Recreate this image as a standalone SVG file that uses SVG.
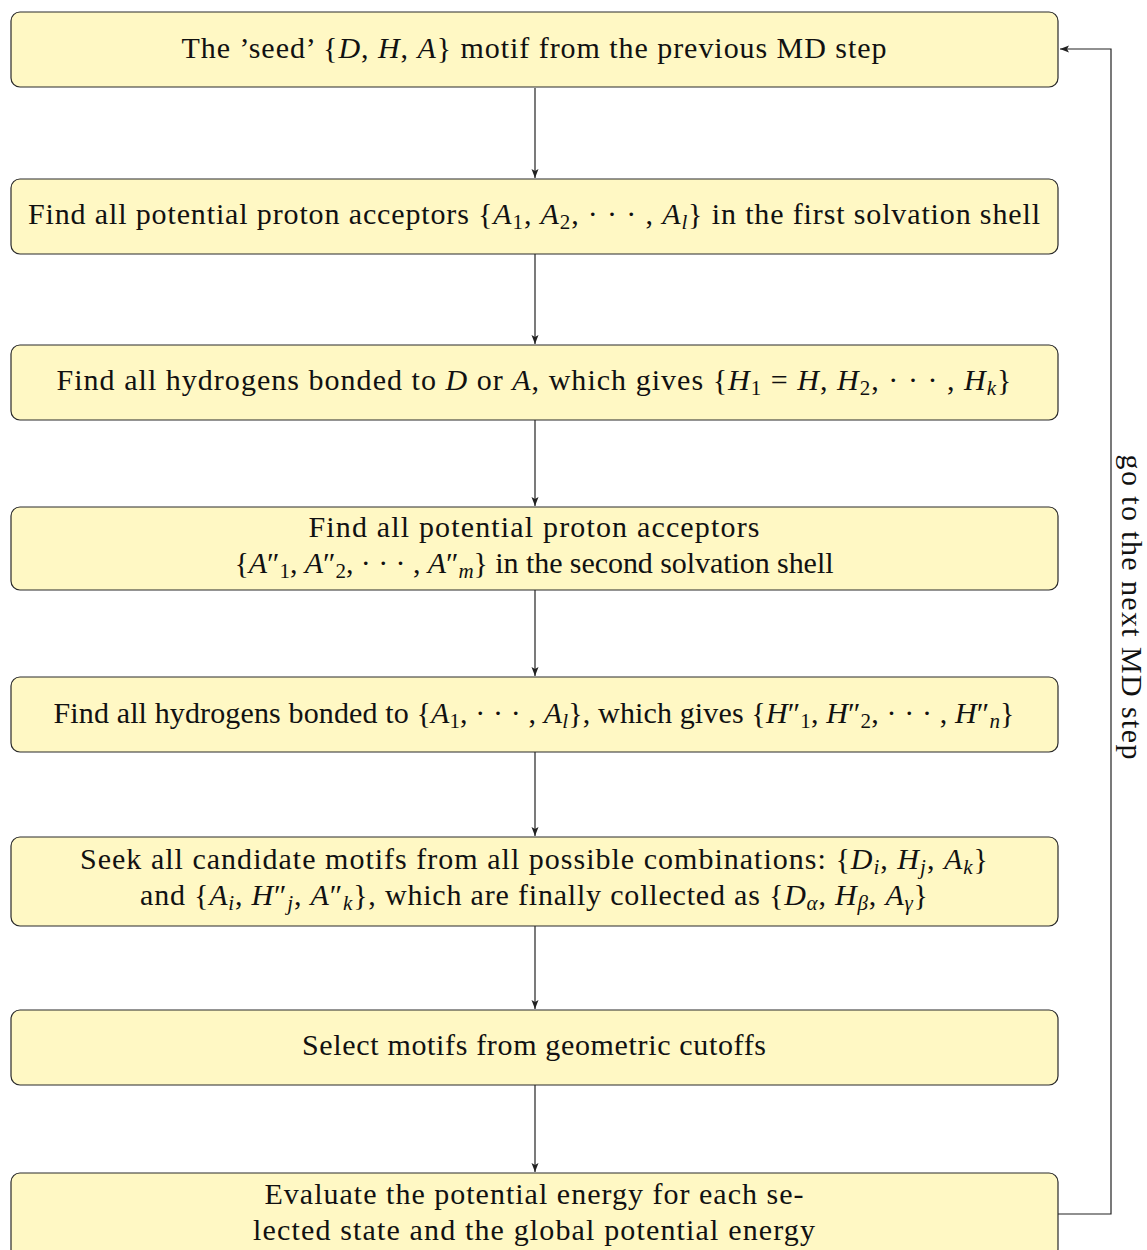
<svg xmlns="http://www.w3.org/2000/svg" width="1147" height="1250" viewBox="0 0 1147 1250">
<style>
.box{fill:#fff8c4;stroke:#2a2a2a;stroke-width:1.2}
.t{font-family:"Liberation Serif","DejaVu Serif",serif;font-size:30px;fill:#111;text-anchor:middle}
.i{font-style:italic}
.s{font-size:21px}
.c{fill:none;stroke:#222;stroke-width:1.2}
</style>
<defs>
<marker id="ah" markerWidth="10" markerHeight="8" refX="9" refY="4" orient="auto" markerUnits="userSpaceOnUse">
<path d="M0,0.5 L9,4 L0,7.5 L2,4 Z" fill="#222"/>
</marker>
</defs>
<g id="connectors">
<line class="c" x1="535" y1="88" x2="535" y2="178" marker-end="url(#ah)"/>
<line class="c" x1="535" y1="254" x2="535" y2="344" marker-end="url(#ah)"/>
<line class="c" x1="535" y1="420" x2="535" y2="506" marker-end="url(#ah)"/>
<line class="c" x1="535" y1="590" x2="535" y2="676" marker-end="url(#ah)"/>
<line class="c" x1="535" y1="752" x2="535" y2="836" marker-end="url(#ah)"/>
<line class="c" x1="535" y1="926" x2="535" y2="1009" marker-end="url(#ah)"/>
<line class="c" x1="535" y1="1085" x2="535" y2="1172" marker-end="url(#ah)"/>
<polyline class="c" points="1058,1214 1111,1214 1111,49 1060,49" marker-end="url(#ah)"/>
<text class="t" transform="translate(1129,607) rotate(90)" dominant-baseline="middle" textLength="305" lengthAdjust="spacing">go to the next MD step</text>
</g>
<g id="n1">
<rect class="box" x="11" y="12" width="1047" height="75" rx="9"/>
<text class="t" x="534" y="58" textLength="705" lengthAdjust="spacing">The ’seed’ {<tspan class="i">D</tspan>, <tspan class="i">H</tspan>, <tspan class="i">A</tspan>} motif from the previous MD step</text>
</g>
<g id="n2">
<rect class="box" x="11" y="179" width="1047" height="75" rx="9"/>
<text class="t" x="534" y="224" textLength="1012" lengthAdjust="spacing">Find all potential proton acceptors {<tspan class="i">A</tspan><tspan class="s" dy="5">1</tspan><tspan dy="-5">, </tspan><tspan class="i">A</tspan><tspan class="s" dy="5">2</tspan><tspan dy="-5">, · · · , </tspan><tspan class="i">A</tspan><tspan class="s i" dy="5">l</tspan><tspan dy="-5">} in the first solvation shell</tspan></text>
</g>
<g id="n3">
<rect class="box" x="11" y="345" width="1047" height="75" rx="9"/>
<text class="t" x="534" y="390" textLength="955" lengthAdjust="spacing">Find all hydrogens bonded to <tspan class="i">D</tspan> or <tspan class="i">A</tspan>, which gives {<tspan class="i">H</tspan><tspan class="s" dy="5">1</tspan><tspan dy="-5"> = </tspan><tspan class="i">H</tspan>, <tspan class="i">H</tspan><tspan class="s" dy="5">2</tspan><tspan dy="-5">, · · · , </tspan><tspan class="i">H</tspan><tspan class="s i" dy="5">k</tspan><tspan dy="-5">}</tspan></text>
</g>
<g id="n4">
<rect class="box" x="11" y="507" width="1047" height="83" rx="9"/>
<text class="t" x="534" y="537" textLength="451" lengthAdjust="spacing">Find all potential proton acceptors</text>
<text class="t" x="534" y="573" textLength="599" lengthAdjust="spacing">{<tspan class="i">A</tspan>″<tspan class="s" dy="5">1</tspan><tspan dy="-5">, </tspan><tspan class="i">A</tspan>″<tspan class="s" dy="5">2</tspan><tspan dy="-5">, · · · , </tspan><tspan class="i">A</tspan>″<tspan class="s i" dy="5">m</tspan><tspan dy="-5">} in the second solvation shell</tspan></text>
</g>
<g id="n5">
<rect class="box" x="11" y="677" width="1047" height="75" rx="9"/>
<text class="t" x="534" y="723" textLength="961" lengthAdjust="spacing">Find all hydrogens bonded to {<tspan class="i">A</tspan><tspan class="s" dy="5">1</tspan><tspan dy="-5">, · · · , </tspan><tspan class="i">A</tspan><tspan class="s i" dy="5">l</tspan><tspan dy="-5">}, which gives {</tspan><tspan class="i">H</tspan>″<tspan class="s" dy="5">1</tspan><tspan dy="-5">, </tspan><tspan class="i">H</tspan>″<tspan class="s" dy="5">2</tspan><tspan dy="-5">, · · · , </tspan><tspan class="i">H</tspan>″<tspan class="s i" dy="5">n</tspan><tspan dy="-5">}</tspan></text>
</g>
<g id="n6">
<rect class="box" x="11" y="837" width="1047" height="89" rx="9"/>
<text class="t" x="534" y="869" textLength="908" lengthAdjust="spacing">Seek all candidate motifs from all possible combinations: {<tspan class="i">D</tspan><tspan class="s i" dy="5">i</tspan><tspan dy="-5">, </tspan><tspan class="i">H</tspan><tspan class="s i" dy="5">j</tspan><tspan dy="-5">, </tspan><tspan class="i">A</tspan><tspan class="s i" dy="5">k</tspan><tspan dy="-5">}</tspan></text>
<text class="t" x="534" y="905" textLength="788" lengthAdjust="spacing">and {<tspan class="i">A</tspan><tspan class="s i" dy="5">i</tspan><tspan dy="-5">, </tspan><tspan class="i">H</tspan>″<tspan class="s i" dy="5">j</tspan><tspan dy="-5">, </tspan><tspan class="i">A</tspan>″<tspan class="s i" dy="5">k</tspan><tspan dy="-5">}, which are finally collected as {</tspan><tspan class="i">D</tspan><tspan class="s i" dy="5">α</tspan><tspan dy="-5">, </tspan><tspan class="i">H</tspan><tspan class="s i" dy="5">β</tspan><tspan dy="-5">, </tspan><tspan class="i">A</tspan><tspan class="s i" dy="5">γ</tspan><tspan dy="-5">}</tspan></text>
</g>
<g id="n7">
<rect class="box" x="11" y="1010" width="1047" height="75" rx="9"/>
<text class="t" x="534" y="1055" textLength="464" lengthAdjust="spacing">Select motifs from geometric cutoffs</text>
</g>
<g id="n8">
<rect class="box" x="11" y="1173" width="1047" height="85" rx="9"/>
<text class="t" x="534" y="1204" textLength="539" lengthAdjust="spacing">Evaluate the potential energy for each se-</text>
<text class="t" x="534" y="1240" textLength="562" lengthAdjust="spacing">lected state and the global potential energy</text>
</g>
</svg>
